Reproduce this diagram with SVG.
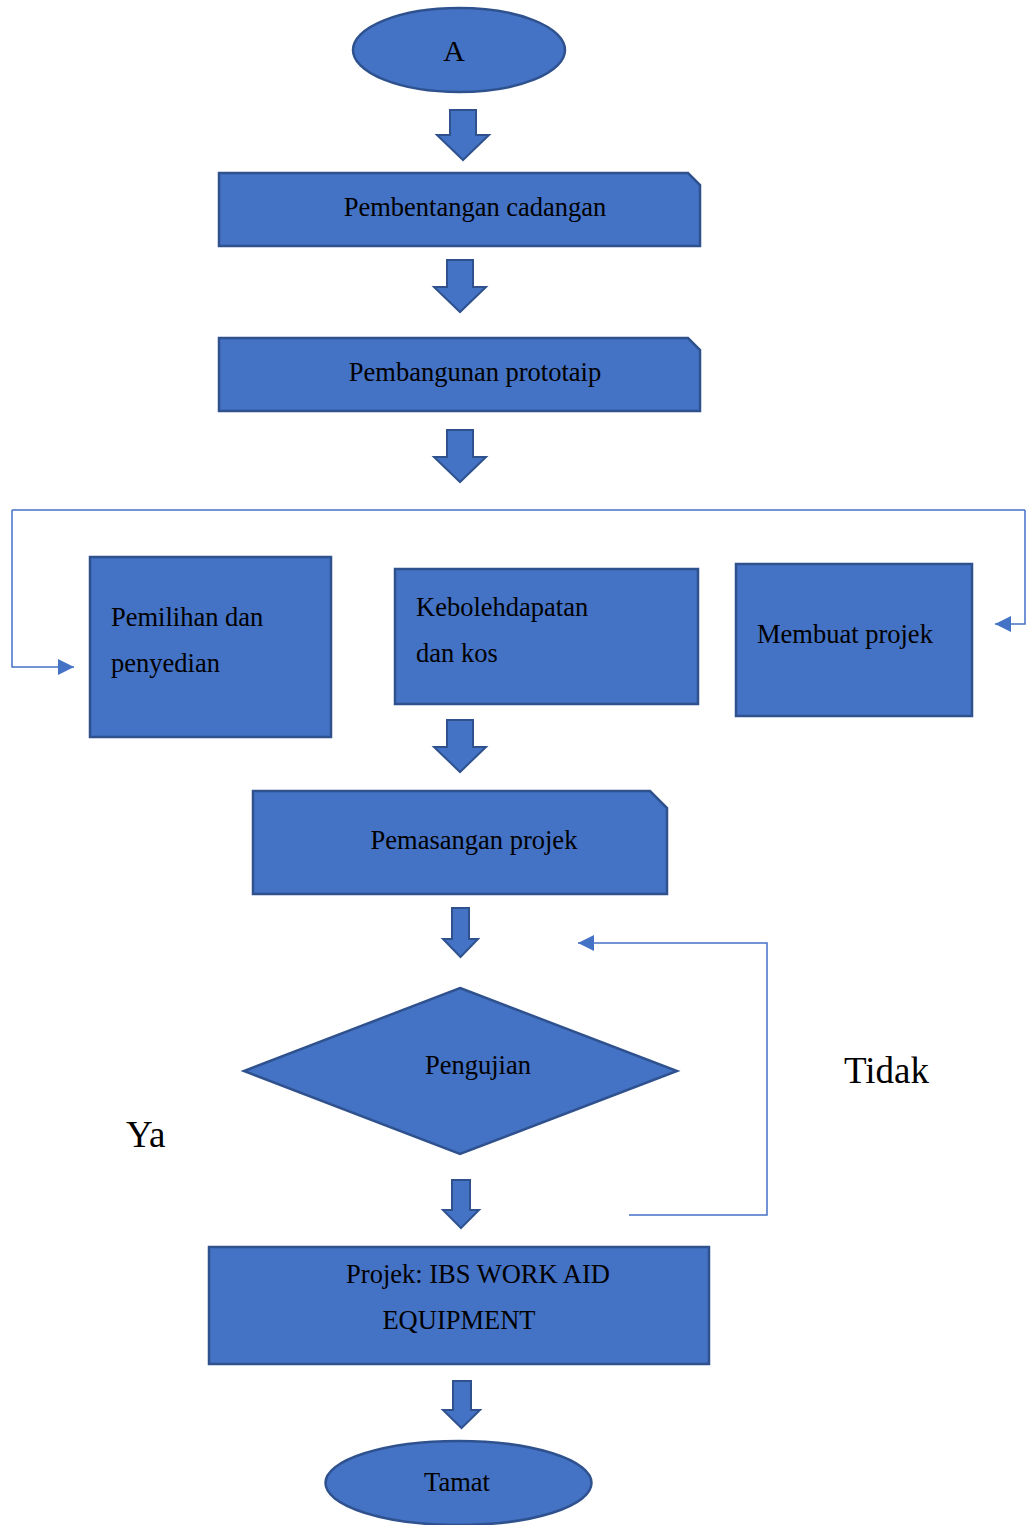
<svg xmlns="http://www.w3.org/2000/svg" width="1026" height="1525" viewBox="0 0 1026 1525">
<defs>
<style>
.n{fill:#4472C4;stroke:#2F528F;stroke-width:2.5}
.ba{fill:#4472C4;stroke:#2F528F;stroke-width:2;stroke-linejoin:miter}
.t{font-family:"Liberation Serif","Times New Roman",serif;font-size:26.5px;fill:#000}
.c{text-anchor:middle}
.big{font-family:"Liberation Serif","Times New Roman",serif;font-size:37px;fill:#000}
.ln{fill:none;stroke:#4472C4;stroke-width:1.5}
</style>
<marker id="ah" viewBox="0 0 10 10" refX="10" refY="5" markerWidth="16" markerHeight="16" markerUnits="userSpaceOnUse" orient="auto">
<path d="M0,0 L10,5 L0,10 Z" fill="#4472C4"/>
</marker>
</defs>
<rect width="1026" height="1525" fill="#fff"/>

<g id="connectors">
<path class="ba" d="M450,110 H476 V135 H489 L463,160 L437,135 H450 Z"/>
<path class="ba" d="M447,260 H473 V287 H486 L460,312 L434,287 H447 Z"/>
<path class="ba" d="M447,430 H473 V457 H486 L460,482 L434,457 H447 Z"/>
<path class="ba" d="M447,720 H473 V747 H486 L460,772 L434,747 H447 Z"/>
<path class="ba" d="M452,908 H469 V939 H478 L460.5,957 L443,939 H452 Z"/>
<path class="ba" d="M452,1180 H470 V1210 H479 L461,1228 L443,1210 H452 Z"/>
<path class="ba" d="M453,1381 H471 V1410 H480 L461.5,1428 L443,1410 H453 Z"/>
<path class="ln" d="M12,510 H1025"/>
<path class="ln" d="M12,510 V667 H74" marker-end="url(#ah)"/>
<path class="ln" d="M1025,510 V624 H995" marker-end="url(#ah)"/>
<path class="ln" d="M629,1215 H767 V943 H578" marker-end="url(#ah)"/>
</g>

<g id="node-a">
<ellipse class="n" cx="459" cy="50" rx="106" ry="42"/>
<text class="t c" x="454" y="61" style="font-size:30px">A</text>
</g>

<g id="node-pembentangan">
<path class="n" d="M219,173 H688 L700,185 V246 H219 Z"/>
<text class="t c" x="475" y="216">Pembentangan cadangan</text>
</g>

<g id="node-pembangunan">
<path class="n" d="M219,338 H688 L700,350 V411 H219 Z"/>
<text class="t c" x="475" y="381">Pembangunan prototaip</text>
</g>

<g id="node-pemilihan">
<rect class="n" x="90" y="557" width="241" height="180"/>
<text class="t" x="111" y="626">Pemilihan dan</text>
<text class="t" x="111" y="672">penyedian</text>
</g>

<g id="node-kebolehdapatan">
<rect class="n" x="395" y="569" width="303" height="135"/>
<text class="t" x="416" y="616">Kebolehdapatan</text>
<text class="t" x="416" y="662">dan kos</text>
</g>

<g id="node-membuat">
<rect class="n" x="736" y="564" width="236" height="152"/>
<text class="t" x="757" y="643">Membuat projek</text>
</g>

<g id="node-pemasangan">
<path class="n" d="M253,791 H650 L667,808 V894 H253 Z"/>
<text class="t c" x="474" y="849">Pemasangan projek</text>
</g>

<g id="node-pengujian">
<path class="n" d="M460,988 L677,1071 L460,1154 L244,1071 Z"/>
<text class="t c" x="478" y="1074">Pengujian</text>
</g>

<g id="labels">
<text class="big" x="844" y="1083">Tidak</text>
<text class="big" x="126" y="1147">Ya</text>
</g>

<g id="node-projek">
<rect class="n" x="209" y="1247" width="500" height="117"/>
<text class="t c" x="478" y="1283">Projek: IBS WORK AID</text>
<text class="t c" x="459" y="1329">EQUIPMENT</text>
</g>

<g id="node-tamat">
<ellipse class="n" cx="458.5" cy="1483" rx="133" ry="42"/>
<text class="t c" x="457" y="1491">Tamat</text>
</g>
</svg>
